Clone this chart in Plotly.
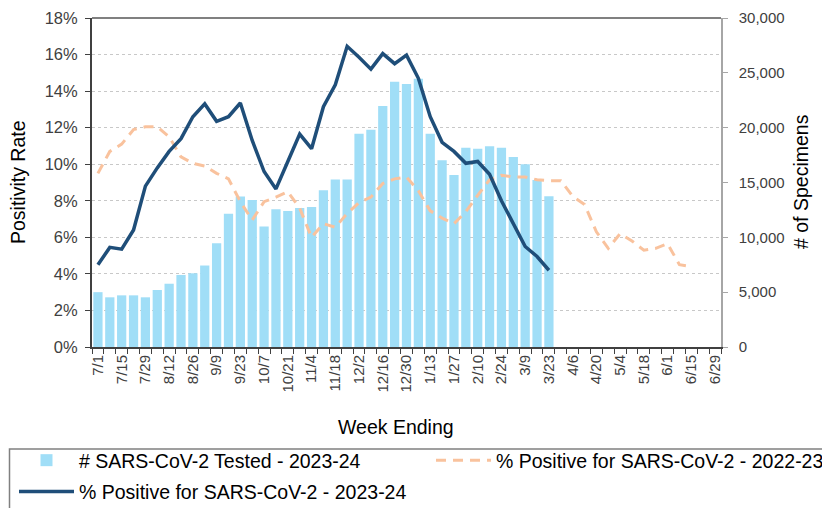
import pandas as pd
import plotly.graph_objects as go

# week-ending dates, Jul 1 2023 .. Jun 29 2024
weeks = [f"{d.month}/{d.day}" for d in pd.date_range("2023-07-01", periods=53, freq="7D")]
tick_text = [w if i % 2 == 0 else "" for i, w in enumerate(weeks)]

# number of specimens tested, 2023-24 season
tested_2324 = [
    5000, 4530, 4710, 4710, 4530, 5200, 5770, 6570, 6720, 7430,
    9470, 12160, 13720, 13410, 10990, 12570, 12390, 12670, 12760, 14290,
    15280, 15280, 19440, 19820, 21980, 24190, 23980, 24470, 19450, 17020,
    15680, 18180, 18080, 18300, 18180, 17330, 16660, 15230, 13740,
]

# percent positive, 2023-24 season
pos_2324 = [
    4.5, 5.45, 5.35, 6.4, 8.8, 9.8, 10.7, 11.4, 12.6, 13.3,
    12.35, 12.6, 13.35, 11.3, 9.6, 8.65, 10.15, 11.65, 10.85, 13.15,
    14.35, 16.45, 15.85, 15.2, 16.05, 15.5, 15.97, 14.7, 12.6, 11.2,
    10.7, 10.05, 10.15, 9.45, 8.0, 6.8, 5.5, 4.95, 4.2,
]

# percent positive, 2022-23 season
pos_2223 = [
    9.5, 10.7, 11.1, 11.9, 12.05, 12.05, 11.5, 10.4, 10.05, 9.9,
    9.5, 9.2, 7.95, 6.95, 7.95, 8.2, 8.5, 7.6, 6.0, 6.75,
    6.55, 7.3, 7.9, 8.2, 8.95, 9.2, 9.3, 8.55, 7.45, 7.05,
    6.75, 7.4, 8.3, 9.15, 9.4, 9.3, 9.3, 9.15, 9.1, 9.1,
    8.25, 7.8, 6.3, 5.4, 6.2, 5.8, 5.3, 5.4, 5.65, 4.5,
    4.4,
]

FONT = "Liberation Sans, Arial, sans-serif"
TXT = "#404040"
W, H = 830, 508
OFF = 8  # page body margin shifts the figure 8px right/down
L, T = 92 - OFF, 18 - OFF
PW, PH = 629, 329
R, B = W - L - PW, H - T - PH


def px_x(sx):
    # screen x -> paper x
    return (sx - OFF - L) / PW


def px_y(sy):
    # screen y -> paper y
    return (T + PH - (sy - OFF)) / PH


fig = go.Figure()

fig.add_trace(go.Bar(
    x=weeks[:len(tested_2324)], y=tested_2324,
    name="# SARS-CoV-2 Tested - 2023-24",
    marker=dict(color="#A0DEF7", line_width=0),
    yaxis="y", legend="legend", legendgroup="a",
))
fig.add_trace(go.Scatter(
    x=weeks[:len(pos_2223)], y=pos_2223,
    name="% Positive for SARS-CoV-2 - 2022-23",
    mode="lines", line=dict(color="#F9C29D", width=3, dash="10px,7px"),
    yaxis="y2", legend="legend2",
))
fig.add_trace(go.Scatter(
    x=weeks[:len(pos_2324)], y=pos_2324,
    name="% Positive for SARS-CoV-2 - 2023-24",
    mode="lines", line=dict(color="#1F4E79", width=3.5),
    yaxis="y2", legend="legend", legendgroup="b",
))

legend_common = dict(
    orientation="v", xref="container", yref="container",
    xanchor="left", yanchor="top", y=1 - 433 / H,
    bgcolor="rgba(0,0,0,0)", borderwidth=0,
    font=dict(size=19.5, color="#000000"),
    itemwidth=55, traceorder="grouped", tracegroupgap=3,
)

fig.update_layout(
    width=W, height=H,
    margin=dict(l=L, r=R, t=T, b=B, autoexpand=False),
    plot_bgcolor="white", paper_bgcolor="white",
    font=dict(family=FONT, color=TXT, size=15.5),
    bargap=0.22,
    showlegend=True,
    legend=dict(legend_common, x=6 / W),
    legend2=dict(legend_common, x=423 / W),
    xaxis=dict(
        type="category", categoryorder="array", categoryarray=weeks,
        range=[-0.5, len(weeks) - 0.5],
        tickmode="array", tickvals=weeks, ticktext=tick_text,
        tickson="boundaries", ticks="outside", ticklen=5, tickcolor="#404040",
        tickangle=-90, tickfont=dict(size=15),
        showline=True, linecolor="#404040", linewidth=2,
        showgrid=False, automargin=False,
    ),
    yaxis=dict(
        side="right", range=[0, 30000], dtick=5000, tickformat=",",
        tickfont=dict(size=15),
        showgrid=False, zeroline=False, automargin=False,
        showline=True, linecolor="#A6A6A6", linewidth=1.5,
        ticks="outside", ticklen=5, tickcolor="#A6A6A6", ticklabelstandoff=8,
    ),
    yaxis2=dict(
        overlaying="y", side="left", range=[0, 18], dtick=2, ticksuffix="%",
        tickfont=dict(size=16.5),
        showgrid=True, gridcolor="#C8C8C8", griddash="dot", gridwidth=1,
        zeroline=False, automargin=False,
        showline=True, linecolor="#404040", linewidth=2,
        ticks="outside", ticklen=5, tickcolor="#404040", ticklabelstandoff=4,
    ),
)

# axis titles
title_font = dict(size=19.5, color="#000000", family=FONT)
fig.add_annotation(text="Positivity Rate", xref="paper", yref="paper",
                   x=px_x(18), y=px_y(182), xanchor="center", yanchor="middle",
                   textangle=-90, showarrow=False, font=title_font)
fig.add_annotation(text="# of Specimens", xref="paper", yref="paper",
                   x=px_x(801), y=px_y(182), xanchor="center", yanchor="middle",
                   textangle=-90, showarrow=False, font=title_font)
fig.add_annotation(text="Week Ending", xref="paper", yref="paper",
                   x=px_x(396), y=px_y(427), xanchor="center", yanchor="middle",
                   showarrow=False, font=title_font)

# gray top border of the plot box
fig.add_shape(type="line", xref="paper", yref="paper", x0=0, x1=1, y0=1, y1=1,
              line=dict(color="#808080", width=2))
# legend frame, running off the right and bottom edges like the original
fig.add_shape(type="rect", xref="paper", yref="paper",
              x0=px_x(9.5), x1=px_x(845), y0=px_y(449), y1=px_y(530),
              line=dict(color="#808080", width=1.5), fillcolor="rgba(0,0,0,0)")

fig.write_html("out.html")
